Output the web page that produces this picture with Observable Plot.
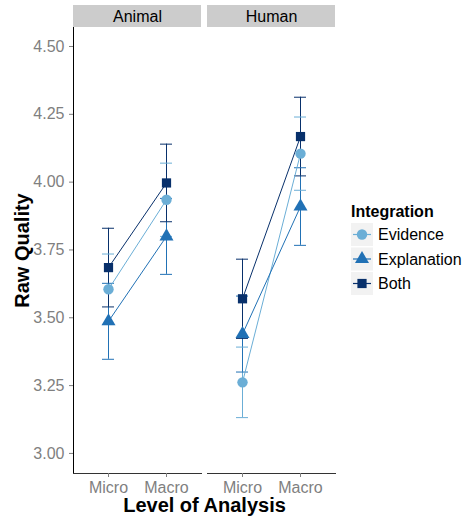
<!DOCTYPE html>
<html><head><meta charset="utf-8">
<script src="https://cdn.jsdelivr.net/npm/d3@7"></script>
<script src="https://cdn.jsdelivr.net/npm/@observablehq/plot@0.6"></script>
<style>
body{margin:0;background:#fff;}
#chart svg{font-family:"Liberation Sans",Arial,Helvetica,sans-serif;}
</style></head><body><div id="chart"></div>
<script>
// Data (order: Animal-Micro, Animal-Macro, Human-Micro, Human-Macro)
const panels = ["Animal", "Human"];
const levels = ["Micro", "Macro"];
const series = ["Evidence", "Explanation", "Both"];
const colors = ["#6baed6", "#2171b5", "#08306b"];
const symbols = ["circle", "triangle", "square"];
const yTicks = [3.00, 3.25, 3.50, 3.75, 4.00, 4.25, 4.50];
const evidenceMean = [3.605, 3.935, 3.262, 4.105];
const evidenceErr = [0.130, 0.135, 0.130, 0.135];
const explanationMean = [3.487, 3.800, 3.440, 3.910];
const explanationErr = [0.140, 0.140, 0.140, 0.143];
const bothMean = [3.685, 3.997, 3.570, 4.168];
const bothErr = [0.145, 0.143, 0.146, 0.145];

const means = [evidenceMean, explanationMean, bothMean];
const errs = [evidenceErr, explanationErr, bothErr];
const rows = [];
series.forEach((s, si) => {
  panels.forEach((p, pi) => {
    levels.forEach((l, li) => {
      const k = pi * 2 + li;
      const m = means[si][k], e = errs[si][k];
      rows.push({series: s, panel: p, level: l, mean: m, lo: m - e, hi: m + e});
    });
  });
});

const plot = Plot.plot({
  width: 465, height: 517,
  marginLeft: 72, marginRight: 130, marginTop: 27, marginBottom: 44,
  style: {fontFamily: '"Liberation Sans", Arial, Helvetica, sans-serif', background: "white", overflow: "visible"},
  fx: {domain: panels, paddingInner: 0.045, paddingOuter: 0},
  x: {type: "band", domain: levels, paddingInner: 0.794, paddingOuter: 0.497},
  y: {domain: [2.926, 4.570]},
  color: {domain: series, range: colors},
  symbol: {domain: series, range: symbols},
  marks: [
    Plot.frame({anchor: "bottom", stroke: "#333"}),
    Plot.axisY({ticks: yTicks, tickFormat: d3.format(".2f"), tickSize: 4, tickPadding: 5, fontSize: 16, color: "#7f7f7f", label: "Raw Quality", labelAnchor: "center", labelOffset: 59, labelArrow: "none"}),
    Plot.axisX({tickSize: 4, tickPadding: 4, fontSize: 16, color: "#7f7f7f", label: null}),
    Plot.axisFx({anchor: "top", label: null, tickSize: 0, tickPadding: 6, fontSize: 16, color: "black"}),
    Plot.axisFx({anchor: "bottom", ticks: [], label: "Level of Analysis", labelAnchor: "center", labelOffset: 38, labelArrow: "none"}),
    Plot.ruleX(rows, {fx: "panel", x: "level", y1: "lo", y2: "hi", stroke: "series", strokeWidth: 1}),
    Plot.tickY(rows, {fx: "panel", x: "level", y: "lo", stroke: "series", strokeWidth: 1}),
    Plot.tickY(rows, {fx: "panel", x: "level", y: "hi", stroke: "series", strokeWidth: 1}),
    Plot.line(rows, {fx: "panel", x: "level", y: "mean", z: "series", stroke: "series", strokeWidth: 1}),
    Plot.dot(rows, {fx: "panel", x: "level", y: "mean", fill: "series", symbol: "series", r: 5.2})
  ]
});
document.getElementById("chart").appendChild(plot);

const svg = d3.select(plot);
const fx = plot.scale("fx");
const ys = plot.scale("y");
const color = plot.scale("color");

// facet strips
svg.insert("g", ":first-child")
  .selectAll("rect").data(panels).join("rect")
  .attr("x", d => fx.apply(d)).attr("y", 5)
  .attr("width", fx.bandwidth).attr("height", 22)
  .attr("fill", "#cccccc");
// left axis line
svg.append("line")
  .attr("x1", fx.apply(panels[0]) + 0.5).attr("x2", fx.apply(panels[0]) + 0.5)
  .attr("y1", ys.range[0]).attr("y2", ys.range[1])
  .attr("stroke", "black");

// axis titles styling
svg.selectAll('g[aria-label="y-axis label"] text, g[aria-label="fx-axis label"] text')
  .attr("font-weight", "bold").attr("font-size", 20).attr("fill", "black");

// legend
const lg = svg.append("g").attr("transform", "translate(351,0)").attr("text-anchor", "start");
lg.append("text").attr("x", 0).attr("y", 217).attr("font-weight", "bold").attr("font-size", 16).attr("fill", "black").text("Integration");
const symTypes = {circle: d3.symbolCircle, triangle: d3.symbolTriangle, square: d3.symbolSquare};
series.forEach((s, i) => {
  const cy = 234.5 + i * 24.5;
  const c = color.apply(s);
  lg.append("rect").attr("x", 0).attr("y", cy - 11.5).attr("width", 22).attr("height", 23).attr("fill", "#f2f2f2");
  lg.append("line").attr("x1", 2).attr("x2", 20).attr("y1", cy).attr("y2", cy).attr("stroke", c).attr("stroke-width", 1.2);
  lg.append("path").attr("transform", `translate(11,${cy})`).attr("d", d3.symbol(symTypes[symbols[i]], Math.PI * 5.2 * 5.2)()).attr("fill", c);
  lg.append("text").attr("x", 27).attr("y", cy + 5.5).attr("font-size", 16).attr("fill", "black").text(s);
});
</script></body></html>
